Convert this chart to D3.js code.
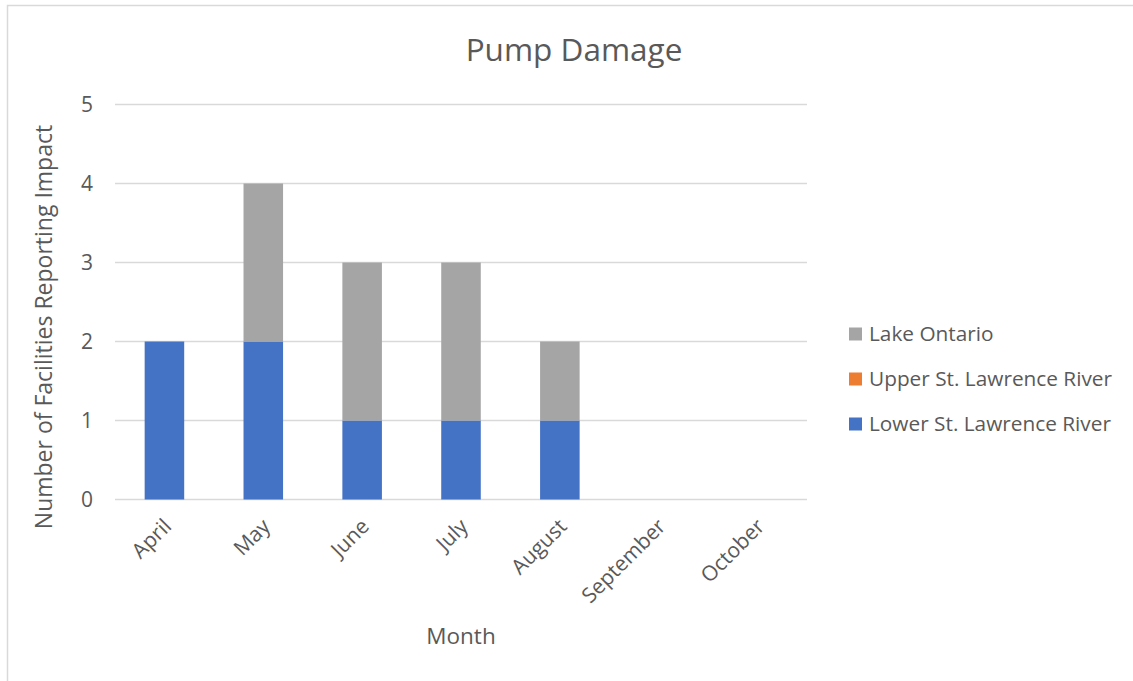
<!DOCTYPE html>
<html>
<head>
<meta charset="utf-8">
<script src="https://cdn.jsdelivr.net/npm/d3@7"></script>
<style>
  body { margin: 0; background: #fff; }
  text { font-family: "Open Sans", sans-serif; fill: #595959; }
</style>
</head>
<body>
<svg id="chart" width="1133" height="681"></svg>
<script>
const months = ["April", "May", "June", "July", "August", "September", "October"];
const lowerStLawrence = [2, 2, 1, 1, 1, 0, 0];
const upperStLawrence = [0, 0, 0, 0, 0, 0, 0];
const lakeOntario = [0, 2, 2, 2, 1, 0, 0];
const yTicks = [0, 1, 2, 3, 4, 5];

const seriesNames = ["Lower St. Lawrence River", "Upper St. Lawrence River", "Lake Ontario"];
const seriesColors = ["#4472c4", "#ed7d31", "#a5a5a5"];

// build rows for the stack
let rows = months.map((m, i) => ({
  month: m,
  "Lower St. Lawrence River": lowerStLawrence[i],
  "Upper St. Lawrence River": upperStLawrence[i],
  "Lake Ontario": lakeOntario[i]
}));

const svg = d3.select("#chart");

// chart border
svg.append("rect")
  .attr("x", 7.5).attr("y", 5.5)
  .attr("width", 1140).attr("height", 690)
  .attr("fill", "none").attr("stroke", "#d9d9d9").attr("stroke-width", 1.5);

const plotLeft = 115, plotRight = 807, plotTop = 104.5, plotBottom = 499.5;

let x = d3.scaleBand().domain(months).range([plotLeft, plotRight]).paddingInner(0.6).paddingOuter(0.3);
let y = d3.scaleLinear().domain([0, 5]).range([plotBottom, plotTop]);

// gridlines
svg.append("g")
  .selectAll("line")
  .data(yTicks)
  .join("line")
  .attr("x1", plotLeft).attr("x2", plotRight)
  .attr("y1", (d) => y(d)).attr("y2", (d) => y(d))
  .attr("stroke", "#d9d9d9").attr("stroke-width", 1.3);

// y tick labels
svg.append("g")
  .selectAll("text")
  .data(yTicks)
  .join("text")
  .attr("x", 93).attr("y", (d) => y(d))
  .attr("dy", "0.36em")
  .attr("text-anchor", "end")
  .attr("font-size", 21)
  .text((d) => d);

// stacked bars
let stack = d3.stack().keys(seriesNames)(rows);

svg.append("g")
  .selectAll("g")
  .data(stack)
  .join("g")
  .attr("fill", (d, i) => seriesColors[i])
  .selectAll("rect")
  .data((d) => d)
  .join("rect")
  .attr("x", (d) => x(d.data.month))
  .attr("width", x.bandwidth())
  .attr("y", (d) => y(d[1]))
  .attr("height", (d) => y(d[0]) - y(d[1]));

// x tick labels, rotated
svg.append("g")
  .selectAll("text")
  .data(months)
  .join("text")
  .attr("transform", (d) => `translate(${x(d) + x.bandwidth() / 2 + 3},${plotBottom + 23}) rotate(-45)`)
  .attr("text-anchor", "end")
  .attr("dy", "0.35em")
  .attr("font-size", 21)
  .text((d) => d);

// title
svg.append("text")
  .attr("x", 574).attr("y", 50)
  .attr("dy", "0.35em")
  .attr("text-anchor", "middle")
  .attr("font-size", 31.5)
  .text("Pump Damage");

// axis titles
svg.append("text")
  .attr("x", (plotLeft + plotRight) / 2).attr("y", 636)
  .attr("dy", "0.35em")
  .attr("text-anchor", "middle")
  .attr("font-size", 22.5)
  .text("Month");

svg.append("text")
  .attr("transform", `translate(44,327) rotate(-90)`)
  .attr("dy", "0.35em")
  .attr("text-anchor", "middle")
  .attr("font-size", 23)
  .text("Number of Facilities Reporting Impact");

// legend (reverse order like Excel)
let legendItems = seriesNames.map((n, i) => ({ name: n, color: seriesColors[i] })).reverse();
let legend = svg.append("g")
  .selectAll("g")
  .data(legendItems)
  .join("g")
  .attr("transform", (d, i) => `translate(849,${334 + i * 45})`);

legend.append("rect")
  .attr("x", 0).attr("y", -6.5)
  .attr("width", 13).attr("height", 13)
  .attr("fill", (d) => d.color);

legend.append("text")
  .attr("x", 20).attr("y", 0)
  .attr("dy", "0.35em")
  .attr("font-size", 20.8)
  .text((d) => d.name);
</script>
</body>
</html>
